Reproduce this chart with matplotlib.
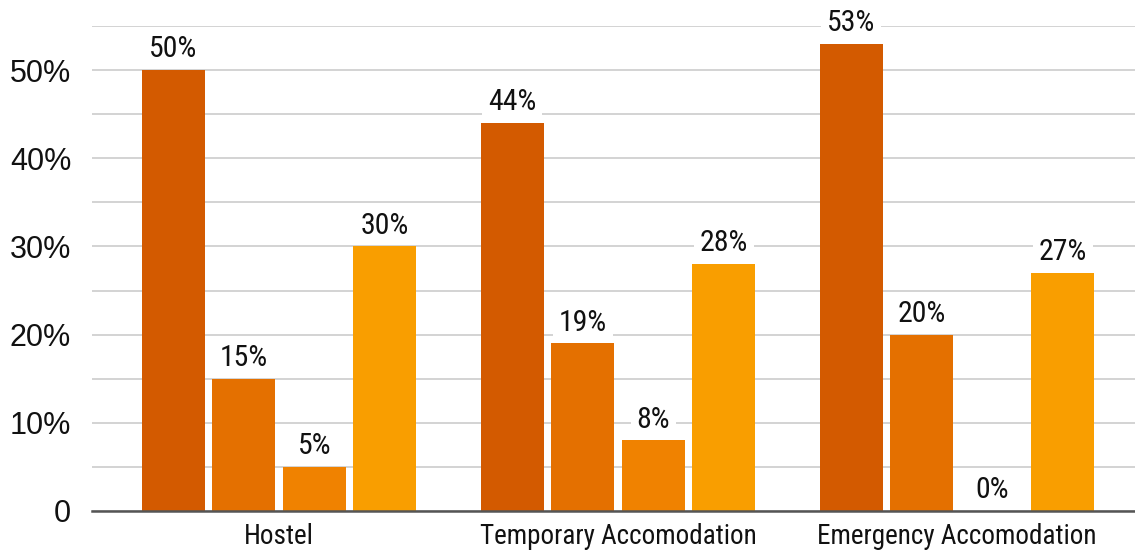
import matplotlib
matplotlib.use("Agg")
import matplotlib.pyplot as plt
import numpy as np
from matplotlib.ticker import MultipleLocator, FuncFormatter

categories = ["Hostel", "Temporary Accomodation", "Emergency Accomodation"]
series_a = [50, 44, 53]
series_b = [15, 19, 20]
series_c = [5, 8, 0]
series_d = [30, 28, 27]
colors = ["#D35A00", "#E47000", "#F08200", "#F99E00"]

series = [series_a, series_b, series_c, series_d]

fig = plt.figure(figsize=(11.35, 5.56), dpi=100)
ax = fig.add_axes([92 / 1135, 1 - 511 / 556, 1 - 92 / 1135, (511 - 26) / 556])

x = np.arange(len(categories))
step = 0.208
width = 0.186
offsets = (np.arange(len(series)) - 1.5) * step

label_font = dict(family=["Roboto Condensed", "DejaVu Sans"], size=21.5, color="#111111")

for vals, off, col in zip(series, offsets, colors):
    bars = ax.bar(x + off, vals, width=width, color=col, zorder=3)
    for b, v in zip(bars, vals):
        ax.annotate(f"{v}%", (b.get_x() + b.get_width() / 2, v),
                    xytext=(0, 5), textcoords="offset points",
                    ha="center", va="bottom", zorder=4,
                    bbox=dict(boxstyle="square,pad=0.2", fc="white", ec="none"),
                    **label_font)

ax.set_xlim(-0.552, 2.525)
ax.set_ylim(0, 55)
ax.yaxis.set_major_locator(MultipleLocator(10))
ax.yaxis.set_minor_locator(MultipleLocator(5))
ax.yaxis.set_major_formatter(FuncFormatter(lambda v, p: "0" if v == 0 else f"{int(v)}%"))
ax.grid(axis="y", which="both", color="#C8C8C8", linewidth=1.1, zorder=0)
ax.set_axisbelow(True)

for s in ["top", "right", "left"]:
    ax.spines[s].set_visible(False)
ax.spines["bottom"].set_color("#555555")
ax.spines["bottom"].set_linewidth(1.8)
ax.spines["bottom"].set_zorder(5)

ax.tick_params(axis="y", which="both", length=0, pad=15, labelsize=22, labelcolor="#111111")
for t in ax.get_yticklabels():
    t.set_fontfamily(["Liberation Sans", "DejaVu Sans"])

ax.set_xticks(x)
ax.set_xticklabels(categories)
ax.tick_params(axis="x", length=0, pad=9, labelsize=19.5, labelcolor="#111111")
for t in ax.get_xticklabels():
    t.set_fontfamily(["Roboto Condensed", "DejaVu Sans"])

fig.savefig("out.png", dpi=100, facecolor="white")
